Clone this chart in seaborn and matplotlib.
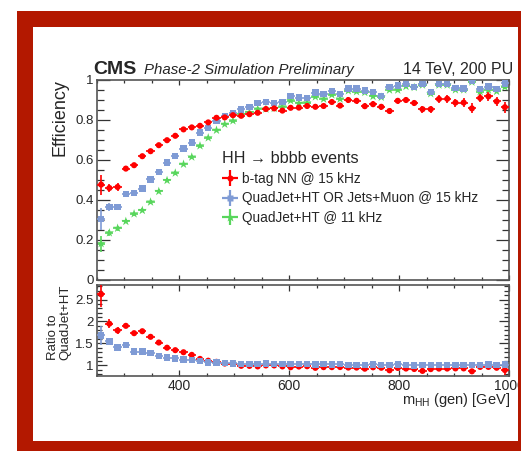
import numpy as np
import pandas as pd
import matplotlib
matplotlib.use('Agg')
from matplotlib import pyplot as plt
from matplotlib.lines import Line2D
from matplotlib.patches import Rectangle
from matplotlib.ticker import MultipleLocator, FuncFormatter
import seaborn as sns

# 15 GeV bins between 250 and 1000 GeV
mhh = np.arange(257.5, 1000.0, 15.0)
half_bin = 7.5

eff_btag = [0.477, 0.460, 0.465, 0.557, 0.574, 0.619, 0.644, 0.674, 0.699, 0.721,
            0.753, 0.763, 0.771, 0.788, 0.811, 0.813, 0.824, 0.821, 0.829, 0.836,
            0.855, 0.858, 0.847, 0.861, 0.862, 0.870, 0.866, 0.870, 0.890, 0.872,
            0.900, 0.896, 0.869, 0.879, 0.866, 0.845, 0.896, 0.900, 0.885, 0.854,
            0.854, 0.905, 0.906, 0.887, 0.887, 0.858, 0.910, 0.918, 0.893, 0.864]
err_btag = [0.050, 0.022, 0.018, 0.012, 0.010, 0.010, 0.010, 0.010, 0.010, 0.010,
            0.010, 0.010, 0.010, 0.010, 0.010, 0.010, 0.010, 0.010, 0.010, 0.010,
            0.012, 0.012, 0.012, 0.012, 0.012, 0.012, 0.012, 0.012, 0.012, 0.012,
            0.014, 0.014, 0.014, 0.015, 0.015, 0.015, 0.016, 0.016, 0.017, 0.018,
            0.018, 0.019, 0.020, 0.020, 0.021, 0.025, 0.022, 0.022, 0.024, 0.027]

eff_muon = [0.306, 0.365, 0.365, 0.431, 0.435, 0.457, 0.503, 0.540, 0.587, 0.620,
            0.657, 0.687, 0.737, 0.761, 0.796, 0.821, 0.833, 0.853, 0.866, 0.886,
            0.891, 0.886, 0.891, 0.921, 0.912, 0.911, 0.937, 0.930, 0.946, 0.930,
            0.957, 0.957, 0.947, 0.939, 0.919, 0.965, 0.972, 0.981, 0.965, 0.980,
            0.939, 0.979, 0.981, 0.961, 0.957, 0.998, 0.956, 0.967, 0.956, 0.983]
err_muon = [0.055, 0.020, 0.015, 0.010, 0.010, 0.010, 0.010, 0.010, 0.010, 0.010,
            0.008, 0.008, 0.008, 0.008, 0.008, 0.008, 0.008, 0.008, 0.008, 0.008,
            0.008, 0.008, 0.008, 0.008, 0.008, 0.008, 0.008, 0.008, 0.008, 0.008,
            0.008, 0.008, 0.008, 0.008, 0.008, 0.008, 0.008, 0.008, 0.008, 0.008,
            0.008, 0.008, 0.008, 0.008, 0.008, 0.008, 0.010, 0.010, 0.010, 0.012]

eff_quad = [0.182, 0.236, 0.259, 0.293, 0.331, 0.348, 0.390, 0.443, 0.498, 0.535,
            0.579, 0.615, 0.671, 0.711, 0.749, 0.779, 0.796, 0.828, 0.838, 0.855,
            0.855, 0.858, 0.866, 0.897, 0.884, 0.886, 0.916, 0.905, 0.926, 0.905,
            0.946, 0.942, 0.938, 0.918, 0.914, 0.950, 0.950, 0.968, 0.963, 0.975,
            0.932, 0.975, 0.975, 0.951, 0.951, 0.990, 0.942, 0.950, 0.943, 0.965]
err_quad = [0.040, 0.015, 0.012, 0.010, 0.010, 0.010, 0.010, 0.010, 0.010, 0.010,
            0.008, 0.008, 0.008, 0.008, 0.008, 0.008, 0.008, 0.008, 0.008, 0.008,
            0.008, 0.008, 0.008, 0.008, 0.008, 0.008, 0.008, 0.008, 0.008, 0.008,
            0.008, 0.008, 0.008, 0.008, 0.008, 0.008, 0.008, 0.008, 0.008, 0.008,
            0.008, 0.008, 0.008, 0.008, 0.008, 0.010, 0.010, 0.010, 0.010, 0.012]

# uncertainties on the ratios
rerr_btag = [0.28, 0.10, 0.07, 0.06, 0.04, 0.04, 0.035, 0.03, 0.03, 0.025,
             0.02, 0.02, 0.02, 0.02, 0.02, 0.02, 0.02, 0.02, 0.02, 0.02,
             0.02, 0.02, 0.02, 0.02, 0.02, 0.02, 0.02, 0.02, 0.02, 0.02,
             0.02, 0.02, 0.02, 0.02, 0.02, 0.02, 0.02, 0.02, 0.02, 0.02,
             0.02, 0.02, 0.02, 0.02, 0.02, 0.03, 0.03, 0.03, 0.03, 0.12]
rerr_muon = [0.22, 0.08, 0.05, 0.04, 0.03, 0.03, 0.03, 0.025, 0.02, 0.02,
             0.015, 0.015, 0.015, 0.015, 0.015, 0.015, 0.015, 0.015, 0.015, 0.015,
             0.015, 0.015, 0.015, 0.015, 0.015, 0.015, 0.015, 0.015, 0.015, 0.015,
             0.015, 0.015, 0.015, 0.015, 0.015, 0.015, 0.015, 0.015, 0.015, 0.015,
             0.015, 0.015, 0.015, 0.015, 0.015, 0.015, 0.015, 0.015, 0.015, 0.08]

labels = ['b-tag NN @ 15 kHz', 'QuadJet+HT OR Jets+Muon @ 15 kHz', 'QuadJet+HT @ 11 kHz']
colors = ['#ff0000', '#7f9bd5', '#58d65c']
markers = ['o', 's', '*']
msizes = [4.4, 4.6, 6.8]

sns.set_theme(style='ticks')
plt.rcParams['font.family'] = ['Liberation Sans', 'DejaVu Sans']
plt.rcParams['mathtext.fontset'] = 'custom'
plt.rcParams['mathtext.rm'] = 'Liberation Sans'
plt.rcParams['mathtext.it'] = 'Liberation Sans:italic'

W, H = 521, 451


def fx(px):
    return px / W


def fy(py):
    return 1 - py / H


fig = plt.figure(figsize=(W / 100, H / 100), dpi=100, facecolor='white')
ax = fig.add_axes([fx(97), fy(280), fx(509) - fx(97), fy(80) - fy(280)])
rax = fig.add_axes([fx(97), fy(376), fx(509) - fx(97), fy(285) - fy(376)])

df = pd.DataFrame({
    'mhh': np.tile(mhh, 3),
    'eff': np.concatenate([eff_btag, eff_muon, eff_quad]),
    'err': np.concatenate([err_btag, err_muon, err_quad]),
    'trigger': np.repeat(labels, len(mhh)),
})

ratio_btag = np.array(eff_btag) / np.array(eff_quad)
ratio_muon = np.array(eff_muon) / np.array(eff_quad)
rdf = pd.DataFrame({
    'mhh': np.tile(mhh, 2),
    'ratio': np.concatenate([ratio_btag, ratio_muon]),
    'err': np.concatenate([rerr_btag, rerr_muon]),
    'trigger': np.repeat(labels[:2], len(mhh)),
})

zorders = [4, 3, 2]
for label, c, m, ms, z in zip(labels, colors, markers, msizes, zorders):
    sub = df[df.trigger == label]
    ax.errorbar(sub.mhh, sub.eff, xerr=half_bin, yerr=sub.err, fmt='none',
                ecolor=c, elinewidth=1.2, capsize=0, zorder=z)
    sns.scatterplot(x=sub.mhh.values, y=sub.eff.values, marker=m, s=ms ** 2,
                    color=c, edgecolor='none', linewidth=0, ax=ax, zorder=z)

for label, c, m, ms, z in zip(labels[:2], colors[:2], markers[:2], msizes[:2], [3, 4]):
    sub = rdf[rdf.trigger == label]
    rax.errorbar(sub.mhh, sub.ratio, xerr=half_bin, yerr=sub.err, fmt='none',
                 ecolor=c, elinewidth=1.2, capsize=0, zorder=z)
    sns.scatterplot(x=sub.mhh.values, y=sub.ratio.values, marker=m, s=ms ** 2,
                    color=c, edgecolor='none', linewidth=0, ax=rax, zorder=z)

for a in (ax, rax):
    a.set_xlim(250, 1000)
    a.set_xlabel('')
    a.set_ylabel('')
    a.xaxis.set_major_locator(MultipleLocator(200))
    a.xaxis.set_minor_locator(MultipleLocator(50))
    a.tick_params(which='both', direction='in', top=True, right=True,
                  color='#333333', width=0.9, labelsize=9.5, pad=2.5)
    for sp in a.spines.values():
        sp.set_color('#555555')
        sp.set_linewidth(1.2)
    a.yaxis.set_major_formatter(FuncFormatter(lambda v, p: '%g' % v))

ax.set_ylim(0, 1.0)
ax.yaxis.set_major_locator(MultipleLocator(0.2))
ax.yaxis.set_minor_locator(MultipleLocator(0.05))
ax.tick_params(axis='y', which='major', length=9.5)
ax.tick_params(axis='y', which='minor', length=5)
ax.tick_params(axis='x', which='major', length=3.8, labelbottom=False)
ax.tick_params(axis='x', which='minor', length=1.9)

rax.set_ylim(0.76, 2.83)
rax.yaxis.set_major_locator(MultipleLocator(0.5))
rax.yaxis.set_minor_locator(MultipleLocator(0.1))
rax.tick_params(axis='y', which='major', length=7)
rax.tick_params(axis='y', which='minor', length=3.5)
rax.tick_params(axis='x', which='major', length=4.5, labelsize=10)
rax.tick_params(axis='x', which='minor', length=2.2)

handles = [
    (Line2D([], [], ls='none', marker='+', ms=12, mew=1.6, color=c),
     Line2D([], [], ls='none', marker=m, ms=ms, mec='none', color=c))
    for c, m, ms in zip(colors, markers, msizes)
]
leg = ax.legend(handles, labels, title='HH \u2192 bbbb events', loc='upper left',
                bbox_to_anchor=(0.303, 0.645), frameon=False, fontsize=9.8,
                title_fontsize=11.6, alignment='left', handlelength=1.2,
                handletextpad=0.3, labelspacing=0.42, borderpad=0, borderaxespad=0)

fig.text(fx(93), fy(74), 'CMS', fontsize=14, fontweight='bold', va='baseline')
fig.text(fx(144), fy(74), 'Phase-2 Simulation Preliminary', fontsize=10.8,
         style='italic', va='baseline')
fig.text(fx(513), fy(74), '14 TeV, 200 PU', fontsize=11.5, ha='right', va='baseline')
fig.text(fx(52), fy(79), 'Efficiency', fontsize=13, rotation=90, ha='left', va='top')
fig.text(fx(47), fy(360), 'Ratio to\nQuadJet+HT', fontsize=9.5, rotation=90,
         ha='left', va='bottom', multialignment='left', linespacing=1.0)
fig.text(fx(510), fy(404), r'm$_{\rm HH}$ (gen) [GeV]', fontsize=10.5,
         ha='right', va='baseline')

# slide frame
frame_red = '#b31800'
for x0, y0, x1, y1 in [(17, 11, 33, 451), (17, 11, 521, 27),
                       (518, 11, 521, 451), (17, 441, 521, 451)]:
    fig.add_artist(Rectangle((fx(x0), fy(y1)), fx(x1) - fx(x0), fy(y0) - fy(y1),
                             transform=fig.transFigure, facecolor=frame_red,
                             edgecolor='none', zorder=10))

fig.savefig('out.png', dpi=100)
